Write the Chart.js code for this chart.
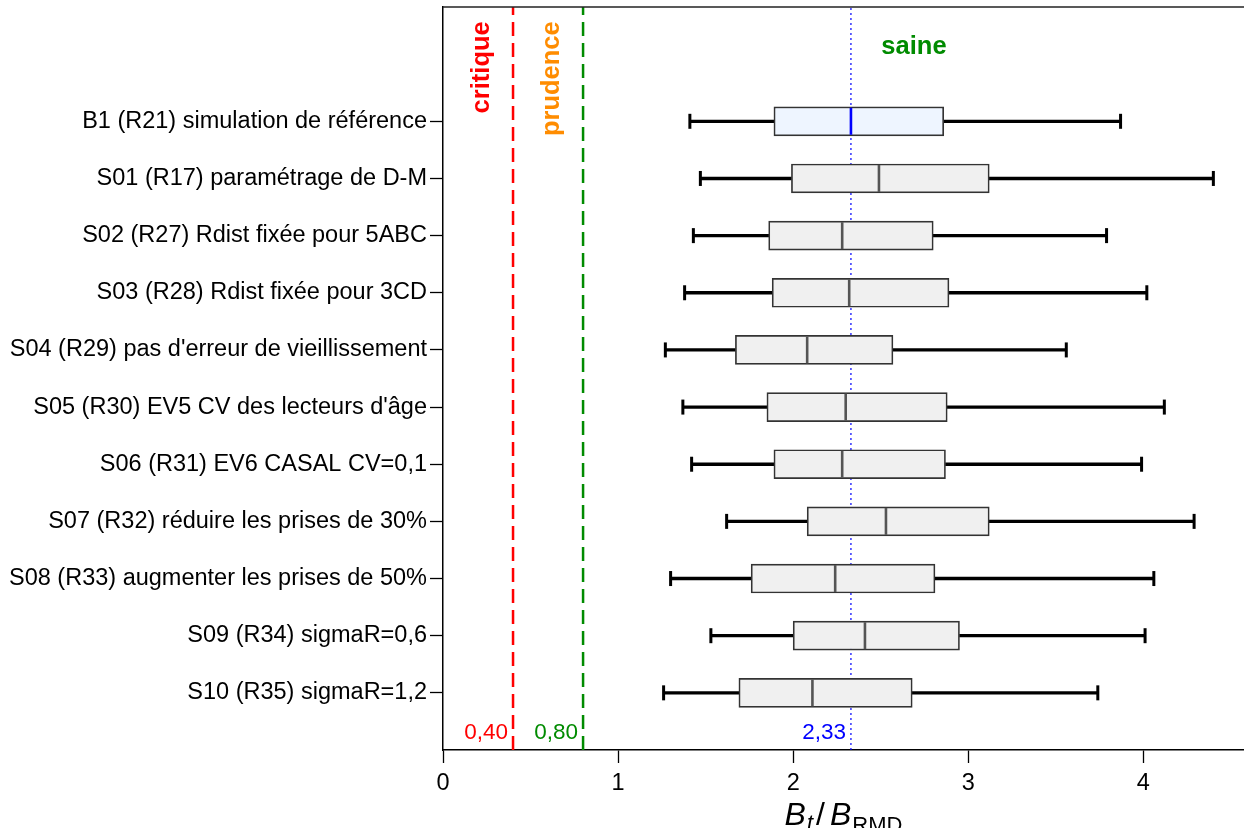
<!DOCTYPE html>
<html lang="fr">
<head>
<meta charset="utf-8">
<title>Bt/BRMD par scénario</title>
<script src="https://cdn.jsdelivr.net/npm/chart.js@4.4.1/dist/chart.umd.min.js"></script>
<style>
  html, body { margin: 0; padding: 0; background: #fff; }
  #wrap { width: 1244px; height: 828px; position: relative; }
</style>
</head>
<body>
<div id="wrap"><canvas id="boxChart"></canvas></div>
<script>
// scénarios, du haut vers le bas
const scenarios = [
  'B1 (R21) simulation de référence',
  'S01 (R17) paramétrage de D-M',
  'S02 (R27) Rdist fixée pour 5ABC',
  'S03 (R28) Rdist fixée pour 3CD',
  "S04 (R29) pas d'erreur de vieillissement",
  "S05 (R30) EV5 CV des lecteurs d'âge",
  'S06 (R31) EV6 CASAL CV=0,1',
  'S07 (R32) réduire les prises de 30%',
  'S08 (R33) augmenter les prises de 50%',
  'S09 (R34) sigmaR=0,6',
  'S10 (R35) sigmaR=1,2'
];
const whiskerLow  = [1.41, 1.47, 1.43, 1.38, 1.27, 1.37, 1.42, 1.62, 1.30, 1.53, 1.26];
const q1          = [1.89, 1.99, 1.86, 1.88, 1.67, 1.85, 1.89, 2.08, 1.76, 2.00, 1.69];
const median      = [2.33, 2.49, 2.28, 2.32, 2.08, 2.30, 2.28, 2.53, 2.24, 2.41, 2.11];
const q3          = [2.86, 3.12, 2.80, 2.89, 2.57, 2.88, 2.87, 3.12, 2.81, 2.95, 2.68];
const whiskerHigh = [3.87, 4.40, 3.79, 4.02, 3.56, 4.12, 3.99, 4.29, 4.06, 4.01, 3.74];

// seuils
const refCritique = 0.40;
const refPrudence = 0.80;
const refMedian = 2.33;
const xTicks = [0, 1, 2, 3, 4];

const FONT = "'Liberation Sans', Arial, sans-serif";

// position de chaque ligne sur l'axe y (B1 en haut)
const rowPos = scenarios.map((s, i) => scenarios.length - i);

const boxData = scenarios.map((s, i) => ({ x: [q1[i], q3[i]], y: rowPos[i] }));
const lowWhisker = scenarios.map((s, i) => ({ x: [whiskerLow[i], q1[i]], y: rowPos[i] }));
const highWhisker = scenarios.map((s, i) => ({ x: [q3[i], whiskerHigh[i]], y: rowPos[i] }));
const capData = [];
scenarios.forEach((s, i) => {
  capData.push({ x: whiskerLow[i], y: rowPos[i] });
  capData.push({ x: whiskerHigh[i], y: rowPos[i] });
});
const medianData = scenarios.map((s, i) => ({ x: median[i], y: rowPos[i] }));
const boxFill = scenarios.map((s, i) => i === 0 ? '#eef5ff' : '#f0f0f0');
const medianColor = scenarios.map((s, i) => i === 0 ? '#0000ff' : '#555555');

function vline(v, color, width, dash) {
  return {
    type: 'line',
    data: [{ x: v, y: 0 }, { x: v, y: 13 }],
    borderColor: color,
    borderWidth: width,
    borderDash: dash,
    pointRadius: 0,
    order: 5
  };
}

function noPadding(scale) {
  scale.paddingTop = 0;
  scale.paddingBottom = 0;
  scale.paddingLeft = 0;
  scale.paddingRight = 0;
}

// textes des zones, étiquettes des seuils
const annotations = {
  id: 'annotations',
  afterDatasetsDraw(chart) {
    const { ctx, scales: { x, y } } = chart;
    ctx.save();
    ctx.font = 'bold 25.5px ' + FONT;
    ctx.textAlign = 'right';
    ctx.textBaseline = 'middle';

    ctx.save();
    ctx.fillStyle = '#ff0000';
    ctx.translate(x.getPixelForValue(0.22), y.getPixelForValue(12.75));
    ctx.rotate(-Math.PI / 2);
    ctx.fillText('critique', 0, 0);
    ctx.restore();

    ctx.save();
    ctx.fillStyle = '#ff8c00';
    ctx.translate(x.getPixelForValue(0.62), y.getPixelForValue(12.75));
    ctx.rotate(-Math.PI / 2);
    ctx.fillText('prudence', 0, 0);
    ctx.restore();

    ctx.textAlign = 'center';
    ctx.fillStyle = '#008b00';
    ctx.fillText('saine', x.getPixelForValue(2.69), y.getPixelForValue(12.3));

    ctx.font = '22.5px ' + FONT;
    ctx.textAlign = 'right';
    const ly = y.getPixelForValue(0.3);
    ctx.fillStyle = '#ff0000';
    ctx.fillText('0,40', x.getPixelForValue(refCritique) - 5, ly);
    ctx.fillStyle = '#008b00';
    ctx.fillText('0,80', x.getPixelForValue(refPrudence) - 5, ly);
    ctx.fillStyle = '#0000ff';
    ctx.fillText('2,33', x.getPixelForValue(refMedian) - 5, ly);
    ctx.restore();
  },
  afterDraw(chart) {
    const { ctx, chartArea } = chart;
    ctx.save();
    // bord haut du cadre
    ctx.strokeStyle = '#222';
    ctx.lineWidth = 1.5;
    ctx.beginPath();
    ctx.moveTo(chartArea.left, chartArea.top);
    ctx.lineTo(chartArea.right, chartArea.top);
    ctx.stroke();

    // titre de l'axe x : Bt / BRMD
    const parts = [
      { t: 'B', f: 'italic 32px ', dy: 0, gap: 1 },
      { t: 't', f: 'italic 22px ', dy: 5, gap: 3 },
      { t: '/', f: '32px ', dy: 0, gap: 5 },
      { t: 'B', f: 'italic 32px ', dy: 0, gap: 1 },
      { t: 'RMD', f: '22px ', dy: 7, gap: 0 }
    ];
    let total = 0;
    parts.forEach(p => {
      ctx.font = p.f + FONT;
      p.w = ctx.measureText(p.t).width;
      total += p.w + p.gap;
    });
    let px = (chartArea.left + chartArea.right) / 2 - total / 2;
    ctx.fillStyle = '#000';
    ctx.textBaseline = 'alphabetic';
    ctx.textAlign = 'left';
    parts.forEach(p => {
      ctx.font = p.f + FONT;
      ctx.fillText(p.t, px, 825 + p.dy);
      px += p.w + p.gap;
    });
    ctx.restore();
  }
};

const ctx = document.getElementById('boxChart').getContext('2d');
const chart = new Chart(ctx, {
  type: 'bar',
  data: {
    datasets: [
      // médianes
      {
        type: 'scatter',
        data: medianData,
        pointStyle: 'line',
        pointRotation: 90,
        pointRadius: 13.5,
        pointBorderWidth: 2.6,
        pointBorderColor: medianColor,
        order: 0
      },
      // boîtes
      {
        data: boxData,
        backgroundColor: boxFill,
        borderColor: '#333333',
        borderWidth: 1.7,
        borderSkipped: false,
        barThickness: 29,
        grouped: false,
        order: 1
      },
      // moustaches
      {
        data: lowWhisker,
        backgroundColor: '#000',
        barThickness: 2.7,
        grouped: false,
        order: 2
      },
      {
        data: highWhisker,
        backgroundColor: '#000',
        barThickness: 2.7,
        grouped: false,
        order: 2
      },
      {
        type: 'scatter',
        data: capData,
        pointStyle: 'line',
        pointRotation: 90,
        pointRadius: 7.5,
        pointBorderWidth: 3,
        pointBorderColor: '#000',
        order: 2
      },
      vline(refCritique, '#ff0000', 2.5, [14, 7]),
      vline(refPrudence, '#008b00', 2.5, [14, 7]),
      vline(refMedian, '#0000ff', 1.2, [2, 3])
    ]
  },
  options: {
    indexAxis: 'y',
    responsive: true,
    maintainAspectRatio: false,
    animation: false,
    events: [],
    layout: { autoPadding: false, padding: { top: 7, right: 0, left: 0, bottom: 0 } },
    plugins: {
      legend: { display: false },
      tooltip: { enabled: false }
    },
    scales: {
      x: {
        type: 'linear',
        min: 0,
        max: 4.575,
        offset: false,
        afterBuildTicks: scale => { scale.ticks = xTicks.map(v => ({ value: v })); },
        afterFit: scale => { scale.height = 78; noPadding(scale); },
        grid: { drawOnChartArea: false, offset: false, tickLength: 13, tickColor: '#000', tickWidth: 1.3 },
        border: { color: '#000', width: 1.5 },
        ticks: {
          color: '#000',
          font: { family: FONT, size: 23.5 },
          padding: 6,
          callback: v => String(v)
        }
      },
      y: {
        type: 'linear',
        min: 0,
        max: 13,
        offset: false,
        afterBuildTicks: scale => { scale.ticks = rowPos.map(v => ({ value: v })); },
        afterFit: scale => { scale.width = 443; noPadding(scale); },
        grid: { drawOnChartArea: false, offset: false, tickLength: 13, tickColor: '#000', tickWidth: 1.3 },
        border: { color: '#000', width: 1.5 },
        ticks: {
          color: '#000',
          font: { family: FONT, size: 23.5 },
          padding: 3,
          callback: v => scenarios[scenarios.length - v]
        }
      }
    }
  },
  plugins: [annotations]
});
</script>
</body>
</html>
